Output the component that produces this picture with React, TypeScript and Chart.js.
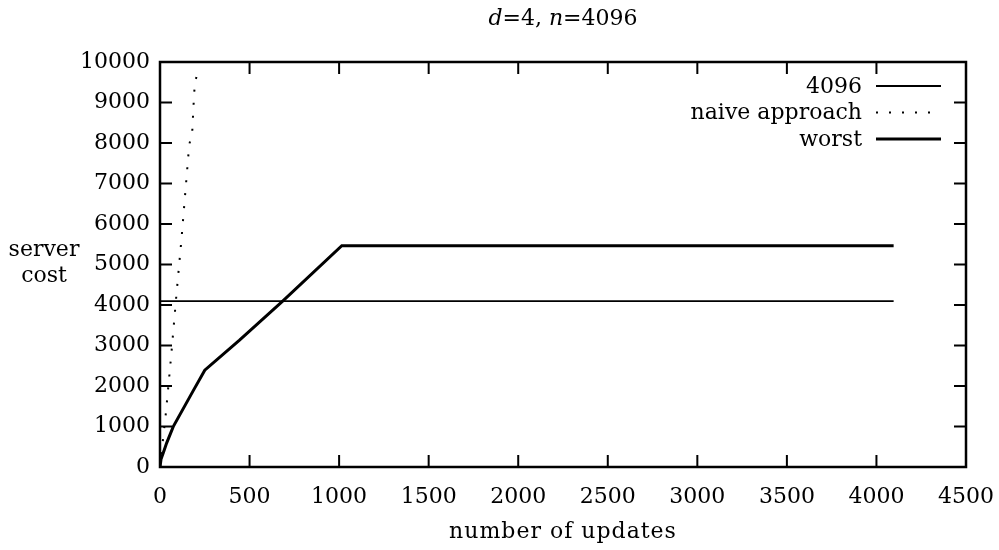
import React, { useEffect, useRef } from "react";
import { Chart, registerables } from "chart.js";

Chart.register(...registerables);

const seriesLabels = ["4096", "naive approach", "worst"];

// "4096" reference line
const refX = [0, 4096];
const refY = [4096, 4096];

// naive approach
const naiveX = [0, 33, 61, 93, 120, 163, 180, 191, 200, 205];
const naiveY = [0, 1342, 2680, 4318, 5631, 7950, 8280, 9260, 9580, 9650];

// worst
const worstX = [0, 6, 18, 37, 74, 185, 250, 444, 685, 1015, 4096];
const worstY = [0, 200, 344, 590, 998, 1880, 2390, 3130, 4096, 5466, 5466];

const xTicks = [0, 500, 1000, 1500, 2000, 2500, 3000, 3500, 4000, 4500];
const yTicks = [0, 1000, 2000, 3000, 4000, 5000, 6000, 7000, 8000, 9000, 10000];

const FONT = "DejaVu Serif";

const toPts = (xs: number[], ys: number[]) => xs.map((x, i) => ({ x, y: ys[i] }));

const decorPlugin = {
  id: "decor",
  afterDraw(chart: any) {
    const ctx = chart.ctx as CanvasRenderingContext2D;
    const { left, right, top, bottom } = chart.chartArea;
    const xs = chart.scales.x;
    const ys = chart.scales.y;
    ctx.save();
    ctx.strokeStyle = "#000";
    ctx.fillStyle = "#000";
    // frame
    ctx.lineWidth = 2.5;
    ctx.strokeRect(left, top, right - left, bottom - top);
    // inner ticks
    ctx.lineWidth = 2;
    const tl = 12;
    ctx.beginPath();
    for (const v of xTicks) {
      const px = xs.getPixelForValue(v);
      ctx.moveTo(px, bottom);
      ctx.lineTo(px, bottom - tl);
      ctx.moveTo(px, top);
      ctx.lineTo(px, top + tl);
    }
    for (const v of yTicks) {
      const py = ys.getPixelForValue(v);
      ctx.moveTo(left, py);
      ctx.lineTo(left + tl, py);
      ctx.moveTo(right, py);
      ctx.lineTo(right - tl, py);
    }
    ctx.stroke();

    // title with italic variables
    const parts: [string, boolean][] = [
      ["d", true],
      ["=4, ", false],
      ["n", true],
      ["=4096", false],
    ];
    ctx.textBaseline = "alphabetic";
    ctx.textAlign = "left";
    let total = 0;
    for (const [t, it] of parts) {
      ctx.font = `${it ? "italic " : ""}22px "${FONT}"`;
      total += ctx.measureText(t).width;
    }
    let cx = (left + right) / 2 - total / 2;
    for (const [t, it] of parts) {
      ctx.font = `${it ? "italic " : ""}22px "${FONT}"`;
      ctx.fillText(t, cx, 25);
      cx += ctx.measureText(t).width;
    }

    // axis titles
    ctx.font = `22px "${FONT}"`;
    ctx.textAlign = "center";
    (ctx as any).letterSpacing = "1px";
    ctx.fillText("number of updates", (left + right) / 2, 538);
    (ctx as any).letterSpacing = "0px";
    ctx.fillText("server", 44, 256);
    ctx.fillText("cost", 44, 282);

    // legend
    const rows = [
      { y: 86, w: 1.8, dash: [] as number[] },
      { y: 112.5, w: 2, dash: [2, 11] },
      { y: 139, w: 3, dash: [] as number[] },
    ];
    rows.forEach((r, i) => {
      ctx.textAlign = "right";
      ctx.textBaseline = "middle";
      ctx.font = `22px "${FONT}"`;
      ctx.fillText(seriesLabels[i], 862, r.y + 1);
      ctx.beginPath();
      ctx.lineWidth = r.w;
      ctx.setLineDash(r.dash);
      ctx.moveTo(876, r.y);
      ctx.lineTo(941, r.y);
      ctx.stroke();
      ctx.setLineDash([]);
    });
    ctx.restore();
  },
};

export default function App() {
  const ref = useRef<HTMLCanvasElement | null>(null);
  useEffect(() => {
    document.body.style.margin = "0";
    const canvas = ref.current!;
    const chart = new Chart(canvas, {
      type: "line",
      data: {
        datasets: [
          {
            label: seriesLabels[0],
            data: toPts(refX, refY),
            borderColor: "#000",
            borderWidth: 1.8,
            pointRadius: 0,
            tension: 0,
          },
          {
            label: seriesLabels[1],
            data: toPts(naiveX, naiveY),
            borderColor: "#000",
            borderWidth: 2,
            borderDash: [2, 11],
            borderCapStyle: "butt",
            pointRadius: 0,
            tension: 0,
          },
          {
            label: seriesLabels[2],
            data: toPts(worstX, worstY),
            borderColor: "#000",
            borderWidth: 3,
            pointRadius: 0,
            tension: 0,
          },
        ],
      },
      options: {
        responsive: false,
        animation: false,
        layout: { padding: { top: 62, right: 33, left: 0, bottom: 0 } },
        plugins: {
          legend: { display: false },
          title: { display: false },
          tooltip: { enabled: false },
        },
        scales: {
          x: {
            type: "linear",
            min: 0,
            max: 4500,
            afterBuildTicks: (s: any) => {
              s.ticks = xTicks.map((v) => ({ value: v }));
            },
            afterFit: (s: any) => {
              s.height = 83;
              s.paddingLeft = 0;
              s.paddingRight = 0;
            },
            grid: { display: false, drawTicks: false, tickLength: 0 },
            border: { display: false },
            ticks: {
              color: "#000",
              font: { family: FONT, size: 22 },
              padding: 17,
              maxRotation: 0,
              autoSkip: false,
              callback: (v: any) => String(v),
            },
          },
          y: {
            type: "linear",
            min: 0,
            max: 10000,
            afterBuildTicks: (s: any) => {
              s.ticks = yTicks.map((v) => ({ value: v }));
            },
            afterFit: (s: any) => {
              s.width = 160;
              s.paddingTop = 0;
              s.paddingBottom = 0;
            },
            grid: { display: false, drawTicks: false, tickLength: 0 },
            border: { display: false },
            ticks: {
              color: "#000",
              font: { family: FONT, size: 22 },
              padding: 10,
              autoSkip: false,
              callback: (v: any) => String(v),
            },
          },
        },
      },
      plugins: [decorPlugin],
    });
    return () => chart.destroy();
  }, []);
  return (
    <div style={{ position: "absolute", left: 0, top: 0, width: 999, height: 550, background: "#fff" }}>
      <canvas ref={ref} width={999} height={550} style={{ width: 999, height: 550 }} />
    </div>
  );
}
